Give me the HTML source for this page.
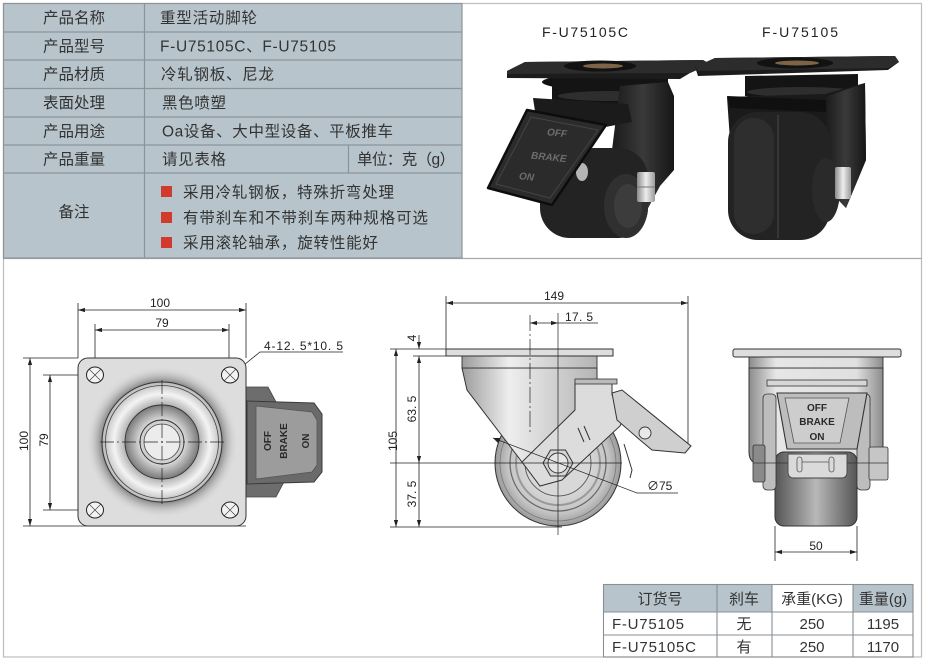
<!DOCTYPE html>
<html><head><meta charset="utf-8">
<style>
html,body{margin:0;padding:0;background:#fff;}
svg{display:block;}
text{font-family:"Liberation Sans","Noto Sans CJK SC",sans-serif;}
</style></head>
<body>
<svg width="925" height="661" viewBox="0 0 925 661" xmlns="http://www.w3.org/2000/svg">
<defs>
  <radialGradient id="halo" cx="0.5" cy="0.5" r="0.5">
    <stop offset="0.78" stop-color="#6a6a6a" stop-opacity="0.8"/>
    <stop offset="1" stop-color="#dcdcdc" stop-opacity="0"/>
  </radialGradient>
  <radialGradient id="ring" cx="0.5" cy="0.5" r="0.5">
    <stop offset="0.55" stop-color="#9a9a9a"/>
    <stop offset="0.8" stop-color="#f4f4f4"/>
    <stop offset="1" stop-color="#b8b8b8"/>
  </radialGradient>
  <radialGradient id="inner" cx="0.5" cy="0.5" r="0.5">
    <stop offset="0.5" stop-color="#f0f0f0"/>
    <stop offset="1" stop-color="#7a7a7a"/>
  </radialGradient>
  <radialGradient id="wheel" cx="0.5" cy="0.5" r="0.5">
    <stop offset="0.3" stop-color="#e4e4e4"/>
    <stop offset="0.8" stop-color="#c4c4c4"/>
    <stop offset="1" stop-color="#9a9a9a"/>
  </radialGradient>
  <linearGradient id="cone" x1="0" y1="0" x2="1" y2="0">
    <stop offset="0" stop-color="#9c9c9c"/>
    <stop offset="0.35" stop-color="#eeeeee"/>
    <stop offset="1" stop-color="#b4b4b4"/>
  </linearGradient>
  <linearGradient id="fork" x1="0" y1="0" x2="1" y2="0">
    <stop offset="0" stop-color="#8c8c8c"/>
    <stop offset="0.2" stop-color="#e6e6e6"/>
    <stop offset="0.8" stop-color="#e0e0e0"/>
    <stop offset="1" stop-color="#8c8c8c"/>
  </linearGradient>
  <linearGradient id="rwheel" x1="0" y1="0" x2="1" y2="0">
    <stop offset="0" stop-color="#555"/>
    <stop offset="0.5" stop-color="#b8b8b8"/>
    <stop offset="1" stop-color="#555"/>
  </linearGradient>
  <linearGradient id="blk" x1="0" y1="0" x2="1" y2="0">
    <stop offset="0" stop-color="#1a1a1a"/>
    <stop offset="0.5" stop-color="#3a3a3a"/>
    <stop offset="1" stop-color="#161616"/>
  </linearGradient>
  <linearGradient id="silver" x1="0" y1="0" x2="1" y2="0">
    <stop offset="0" stop-color="#8a8a8a"/>
    <stop offset="0.5" stop-color="#eeeeee"/>
    <stop offset="1" stop-color="#9a9a9a"/>
  </linearGradient>
  <marker id="ar" viewBox="0 0 10 10" refX="10" refY="5" markerWidth="7" markerHeight="7" orient="auto-start-reverse" markerUnits="userSpaceOnUse">
    <path d="M0,2 L10,5 L0,8 z" fill="#222"/>
  </marker>
</defs>

<!-- outer frame -->
<rect x="3.5" y="3.5" width="918" height="653.5" fill="none" stroke="#bdbdbd" stroke-width="1.2"/>
<line x1="3" y1="258.5" x2="922" y2="258.5" stroke="#a9a9a9" stroke-width="1.2"/>

<!-- top-left spec table -->
<rect x="3.5" y="3.5" width="458.5" height="254.5" fill="#b7c4cb" stroke="#8c9499" stroke-width="1.2"/>
<g stroke="#8c9499" stroke-width="1.2">
  <line x1="3" y1="32" x2="462" y2="32"/>
  <line x1="3" y1="60" x2="462" y2="60"/>
  <line x1="3" y1="88.5" x2="462" y2="88.5"/>
  <line x1="3" y1="117" x2="462" y2="117"/>
  <line x1="3" y1="145" x2="462" y2="145"/>
  <line x1="3" y1="173" x2="462" y2="173"/>
  <line x1="144.5" y1="3" x2="144.5" y2="258"/>
  <line x1="348.5" y1="145" x2="348.5" y2="173"/>
</g>
<g fill="#333" font-size="15.5" text-anchor="middle">
  <text x="74" y="23">产品名称</text>
  <text x="74" y="51.5">产品型号</text>
  <text x="74" y="79.5">产品材质</text>
  <text x="74" y="108">表面处理</text>
  <text x="74" y="136.5">产品用途</text>
  <text x="74" y="164.5">产品重量</text>
  <text x="74" y="217">备注</text>
</g>
<g fill="#333" font-size="15.5">
  <text x="160" y="23" textLength="97">重型活动脚轮</text>
  <text x="160" y="51.5" textLength="176">F-U75105C、F-U75105</text>
  <text x="161" y="79.5" textLength="113">冷轧钢板、尼龙</text>
  <text x="162" y="108" textLength="64">黑色喷塑</text>
  <text x="162" y="136.5" textLength="231">Oa设备、大中型设备、平板推车</text>
  <text x="162" y="164.5" textLength="64">请见表格</text>
  <text x="357" y="164.5" textLength="98">单位：克（g）</text>
  <text x="183" y="197.5" textLength="211">采用冷轧钢板，特殊折弯处理</text>
  <text x="183" y="223" textLength="245">有带刹车和不带刹车两种规格可选</text>
  <text x="183" y="248" textLength="195">采用滚轮轴承，旋转性能好</text>
</g>
<g fill="#d13b2e">
  <rect x="161" y="186" width="11" height="11"/>
  <rect x="161" y="212" width="11" height="11"/>
  <rect x="161" y="237" width="11" height="11"/>
</g>

<!-- photo labels -->
<text x="585" y="37" font-size="14" fill="#222" text-anchor="middle" textLength="86">F-U75105C</text>
<text x="800" y="37" font-size="14" fill="#222" text-anchor="middle" textLength="76">F-U75105</text>

<!-- photo caster 1 (with brake) -->
<g>
  <ellipse cx="600" cy="82" rx="58" ry="8" fill="#111"/>
  <path d="M552,78 L668,78 L668,104 Q610,115 552,104 Z" fill="#141414"/>
  <ellipse cx="610" cy="96" rx="52" ry="5" fill="#2e2e2e"/>
  <!-- fork right leg -->
  <path d="M620,86 L668,82 L674,96 L674,170 L660,186 L646,212 L622,204 L612,150 Z" fill="url(#blk)"/>
  <!-- wheel -->
  <rect x="540" y="148" width="108" height="90" rx="30" fill="#232323"/>
  <ellipse cx="626" cy="206" rx="22" ry="32" fill="#303030"/>
  <ellipse cx="628" cy="206" rx="14" ry="22" fill="#3c3c3c"/>
  <ellipse cx="582" cy="172" rx="6" ry="9" fill="#b5b5b5"/>
  <!-- bolt -->
  <rect x="637" y="172" width="18" height="30" rx="2" fill="url(#silver)"/>
  <line x1="637" y1="187" x2="655" y2="187" stroke="#777" stroke-width="1"/>
  <!-- bracket -->
  <path d="M533,98 L628,104 L632,122 L600,128 L536,118 Z" fill="#1b1b1b"/>
  <!-- pedal -->
  <path d="M527,110 L606,125 L552,205 L488,188 Z" fill="#2b2b2b" stroke="#0d0d0d" stroke-width="2.5" stroke-linejoin="round"/>
  <path d="M531,117 L598,130 L550,198 L496,184 Z" fill="none" stroke="#444" stroke-width="1"/>
  <g fill="#6e6e6e" font-size="10" font-weight="bold" font-style="italic">
    <text x="547" y="136" transform="rotate(6 555 133)">OFF</text>
    <text x="531" y="160" transform="rotate(6 545 157)">BRAKE</text>
    <text x="519" y="180" transform="rotate(6 527 177)">ON</text>
  </g>
  <!-- plate -->
  <polygon points="507,71 525,62 703,60 710,64 690,73 680,79 507,78" fill="#1c1c1c"/>
  <polygon points="507,71 525,62 703,60 710,64 690,73 507,74" fill="#2c2c2c"/>
  <ellipse cx="600" cy="66" rx="36" ry="5.5" fill="#121212"/>
  <ellipse cx="603" cy="66" rx="20" ry="2.5" fill="#7d6446"/>
</g>

<!-- photo caster 2 (no brake) -->
<g>
  <path d="M745,76 L858,74 L858,96 Q800,104 745,96 Z" fill="#141414"/>
  <ellipse cx="802" cy="92" rx="55" ry="5" fill="#2e2e2e"/>
  <!-- fork body -->
  <path d="M727,97 L825,94 L865,83 L866,160 L846,208 L827,188 L730,140 Z" fill="#1a1a1a"/>
  <path d="M825,97 L865,83 L866,160 L846,208 L827,188 Z" fill="url(#blk)"/>
  <!-- wheel -->
  <rect x="728" y="112" width="102" height="128" rx="30" fill="#232323"/>
  <rect x="734" y="118" width="40" height="116" rx="20" fill="#2e2e2e"/>
  <line x1="778" y1="115" x2="778" y2="238" stroke="#3c3c3c" stroke-width="1.5"/>
  <ellipse cx="826" cy="190" rx="14" ry="32" fill="#2a2a2a"/>
  <!-- front bracket -->
  <path d="M727,96 L826,100 L826,112 L730,108 Z" fill="#101010"/>
  <!-- bolt -->
  <rect x="835" y="167" width="16" height="32" rx="2" fill="url(#silver)"/>
  <!-- plate -->
  <polygon points="695,67 715,58 895,56 899,62 888,70 698,76" fill="#1c1c1c"/>
  <polygon points="695,67 715,58 895,56 899,62 888,68 698,71" fill="#2c2c2c"/>
  <ellipse cx="795" cy="63" rx="38" ry="5.5" fill="#121212"/>
  <ellipse cx="797" cy="63" rx="22" ry="2.5" fill="#7d6446"/>
</g>

<!-- ================= LEFT DRAWING (top view) ================= -->
<g stroke="#222" stroke-width="0.8" fill="none">
  <!-- extension lines -->
  <line x1="78" y1="303" x2="78" y2="358"/>
  <line x1="246" y1="303" x2="246" y2="358"/>
  <line x1="95" y1="324" x2="95" y2="375"/>
  <line x1="229" y1="324" x2="229" y2="375"/>
  <line x1="23" y1="358" x2="78" y2="358"/>
  <line x1="23" y1="526" x2="246" y2="526"/>
  <line x1="43" y1="375" x2="95" y2="375"/>
  <line x1="43" y1="510" x2="95" y2="510"/>
  <!-- dimension lines -->
  <line x1="78" y1="310" x2="246" y2="310" marker-start="url(#ar)" marker-end="url(#ar)"/>
  <line x1="95" y1="330" x2="229" y2="330" marker-start="url(#ar)" marker-end="url(#ar)"/>
  <line x1="30" y1="358" x2="30" y2="526" marker-start="url(#ar)" marker-end="url(#ar)"/>
  <line x1="50" y1="375" x2="50" y2="510" marker-start="url(#ar)" marker-end="url(#ar)"/>
  <!-- leader -->
  <polyline points="239,369 260,352 343,352"/>
</g>
<g fill="#222" font-size="12">
  <text x="160" y="307" text-anchor="middle">100</text>
  <text x="162" y="327" text-anchor="middle">79</text>
  <text x="264" y="350" textLength="79">4-12. 5*10. 5</text>
  <text transform="translate(28 441) rotate(-90)" text-anchor="middle">100</text>
  <text transform="translate(48 440) rotate(-90)" text-anchor="middle">79</text>
</g>
<!-- brake pedal (top view) -->
<path d="M246,387 L268,387 L276,402 L246,402 Z" fill="#6d6d6d" stroke="#444" stroke-width="0.8"/>
<path d="M246,480 L285,480 L276,497 L246,497 Z" fill="#6d6d6d" stroke="#444" stroke-width="0.8"/>
<path d="M247,401 L314,403 L322,414 L322,472 L314,482 L247,484 Z" fill="#6a6a6a" stroke="#3a3a3a" stroke-width="1"/>
<path d="M256,406 L312,412 L317,420 L317,465 L312,472 L256,479 Z" fill="#9c9c9c" stroke="#555" stroke-width="0.8"/>
<g fill="#2a2a2a" font-size="10" font-weight="bold" text-anchor="middle">
  <text transform="translate(271 441) rotate(-90)">OFF</text>
  <text transform="translate(287 441) rotate(-90)">BRAKE</text>
  <text transform="translate(309 441) rotate(-90)">ON</text>
</g>
<!-- plate -->
<rect x="78" y="358" width="168" height="168" rx="10" fill="#dddddd" stroke="#333" stroke-width="1"/>
<circle cx="162" cy="442" r="76" fill="url(#halo)"/>
<circle cx="162" cy="442" r="60" fill="url(#ring)" stroke="#333" stroke-width="1"/>
<circle cx="162" cy="442" r="56.5" fill="none" stroke="#444" stroke-width="0.8"/>
<circle cx="162" cy="442" r="37" fill="url(#inner)" stroke="#333" stroke-width="0.9"/>
<circle cx="162" cy="442" r="22" fill="#d0d0d0" stroke="#333" stroke-width="0.9"/>
<circle cx="162" cy="442" r="18" fill="#ececec" stroke="#444" stroke-width="0.8"/>
<g stroke="#222" stroke-width="0.7" stroke-dasharray="14,3,2,3" fill="none">
  <line x1="100" y1="442" x2="224" y2="442"/>
  <line x1="162" y1="380" x2="162" y2="504"/>
</g>
<g fill="#f2f2f2" stroke="#222" stroke-width="1">
  <ellipse cx="95" cy="375" rx="8.5" ry="8"/>
  <ellipse cx="230" cy="375" rx="8.5" ry="8"/>
  <ellipse cx="95" cy="510" rx="8.5" ry="8"/>
  <ellipse cx="230" cy="510" rx="8.5" ry="8"/>
</g>
<g stroke="#333" stroke-width="0.6">
  <path d="M89,369 L101,381 M101,369 L89,381"/>
  <path d="M224,369 L236,381 M236,369 L224,381"/>
  <path d="M89,504 L101,516 M101,504 L89,516"/>
  <path d="M224,504 L236,516 M236,504 L224,516"/>
</g>

<!-- ================= MIDDLE DRAWING (side view) ================= -->
<g stroke="#222" stroke-width="0.8" fill="none">
  <line x1="446" y1="296" x2="446" y2="349"/>
  <line x1="688" y1="296" x2="688" y2="450"/>
  <line x1="446" y1="303" x2="688" y2="303" marker-start="url(#ar)" marker-end="url(#ar)"/>
  <line x1="390" y1="349" x2="446" y2="349"/>
  <line x1="413" y1="356" x2="462" y2="356"/>
  <line x1="390" y1="527" x2="562" y2="527"/>
  <line x1="396" y1="349" x2="396" y2="527" marker-start="url(#ar)" marker-end="url(#ar)"/>
  <line x1="419" y1="335" x2="419" y2="349" marker-end="url(#ar)"/>
  <line x1="419" y1="356" x2="419" y2="463" marker-start="url(#ar)" marker-end="url(#ar)"/>
  <line x1="419" y1="463" x2="419" y2="527" marker-end="url(#ar)"/>
  <line x1="530" y1="323" x2="558" y2="323" marker-start="url(#ar)" marker-end="url(#ar)"/>
  <line x1="558" y1="323" x2="598" y2="323"/>
</g>
<g fill="#222" font-size="12">
  <text x="554" y="300" text-anchor="middle">149</text>
  <text x="565" y="321" textLength="28">17. 5</text>
  <text transform="translate(416 338) rotate(-90)" text-anchor="middle">4</text>
  <text transform="translate(416 409) rotate(-90)" text-anchor="middle">63. 5</text>
  <text transform="translate(397 441) rotate(-90)" text-anchor="middle">105</text>
  <text transform="translate(416 494) rotate(-90)" text-anchor="middle">37. 5</text>
</g>
<!-- wheel -->
<circle cx="558" cy="463" r="63" fill="url(#wheel)" stroke="#333" stroke-width="1"/>
<circle cx="558" cy="463" r="58" fill="none" stroke="#777" stroke-width="0.8"/>
<circle cx="558" cy="463" r="48" fill="none" stroke="#666" stroke-width="1.2"/>
<circle cx="558" cy="463" r="42" fill="none" stroke="#999" stroke-width="2"/>
<circle cx="558" cy="463" r="33" fill="#d8d8d8" stroke="#555" stroke-width="0.9"/>
<!-- cone / housing -->
<path d="M462,368 L597,368 L597,385 L575,385 L575,412 L528,462 L522,462 L467,390 Z" fill="url(#cone)" stroke="#333" stroke-width="1"/>
<rect x="462" y="356" width="135" height="12" fill="url(#cone)" stroke="#333" stroke-width="0.9"/>
<rect x="446" y="349" width="167" height="7" fill="#dedede" stroke="#333" stroke-width="1"/>
<!-- brake arm -->
<path d="M575,382 L612,382 L612,395 L626,414 L620,426 L562,480 L540,486 L522,462 L575,410 Z" fill="#dcdcdc" stroke="#333" stroke-width="1"/>
<rect x="575" y="379" width="42" height="5" fill="#bbb" stroke="#333" stroke-width="0.8"/>
<path d="M612,393 L622,390 L691,446 L685,453 L652,450 L640,440 L617,420 Z" fill="#cfcfcf" stroke="#333" stroke-width="1"/>
<circle cx="645" cy="433" r="6" fill="#e8e8e8" stroke="#333" stroke-width="0.9"/>
<path d="M624,444 L632,470 L630,478" fill="none" stroke="#333" stroke-width="1"/>
<path d="M578,428 L584,442 M584,426 L590,440" stroke="#333" stroke-width="1"/>
<!-- hex nut -->
<polygon points="573,463 565.5,476 550.5,476 543,463 550.5,450 565.5,450" fill="#d4d4d4" stroke="#333" stroke-width="1"/>
<circle cx="558" cy="463" r="10" fill="#e6e6e6" stroke="#333" stroke-width="0.9"/>
<!-- centerlines / dims over drawing -->
<g stroke="#222" stroke-width="0.7" fill="none">
  <line x1="530" y1="315" x2="530" y2="432" stroke-dasharray="16,3,2,3"/>
  <line x1="558" y1="313" x2="558" y2="535"/>
  <line x1="390" y1="463" x2="622" y2="463"/>
  <polyline points="493,438 637,493 678,493"/>
</g>
<path d="M493,438 L500,438 L498,443 Z" fill="#222"/>
<text x="647" y="490" font-size="12" fill="#222">∅75</text>

<!-- ================= RIGHT DRAWING (front view) ================= -->
<path d="M749,368 L883,368 L883,452 Q883,464 871,464 L761,464 Q749,464 749,452 Z" fill="url(#fork)" stroke="#333" stroke-width="1"/>
<rect x="749" y="357" width="134" height="11" fill="url(#fork)" stroke="#333" stroke-width="0.9"/>
<rect x="733" y="349" width="168" height="8" rx="2" fill="#dedede" stroke="#333" stroke-width="1"/>
<rect x="767" y="380" width="100" height="6" fill="#d6d6d6" stroke="#333" stroke-width="0.8"/>
<rect x="775" y="452" width="82" height="74" rx="9" fill="url(#rwheel)" stroke="#333" stroke-width="1"/>
<rect x="763" y="394" width="13" height="96" rx="4" fill="#bdbdbd" stroke="#333" stroke-width="0.8"/>
<rect x="857" y="394" width="13" height="96" rx="4" fill="#bdbdbd" stroke="#333" stroke-width="0.8"/>
<rect x="753" y="445" width="12" height="37" rx="2" fill="#8a8a8a" stroke="#333" stroke-width="0.8"/>
<rect x="869" y="447" width="19" height="33" rx="2" fill="#c6c6c6" stroke="#333" stroke-width="0.8"/>
<line x1="753" y1="463" x2="888" y2="463" stroke="#333" stroke-width="0.7"/>
<path d="M788,454 L847,454 L847,472 Q847,478 841,478 L794,478 Q788,478 788,472 Z" fill="#dadada" stroke="#444" stroke-width="0.9"/>
<g fill="none" stroke="#555" stroke-width="0.8">
  <rect x="797" y="457" width="5" height="15" rx="2.5"/>
  <rect x="829" y="457" width="5" height="15" rx="2.5"/>
  <line x1="802" y1="462" x2="829" y2="462"/>
</g>
<path d="M777,393 L867,393 L857,449 L787,449 Z" fill="#bdbdbd" stroke="#333" stroke-width="1.1"/>
<path d="M785,398 L849,398 L840,443 L794,443 Z" fill="#cdcdcd" stroke="#555" stroke-width="0.8"/>
<g fill="#2a2a2a" font-size="10" font-weight="bold" text-anchor="middle">
  <text x="817" y="411">OFF</text>
  <text x="817" y="425">BRAKE</text>
  <text x="817" y="440">ON</text>
</g>
<g stroke="#222" stroke-width="0.8" fill="none">
  <line x1="775" y1="526" x2="775" y2="561"/>
  <line x1="857" y1="526" x2="857" y2="561"/>
  <line x1="775" y1="552" x2="857" y2="552" marker-start="url(#ar)" marker-end="url(#ar)"/>
</g>
<text x="816" y="550" font-size="12" fill="#222" text-anchor="middle">50</text>

<!-- ================= BOTTOM TABLE ================= -->
<rect x="603" y="584" width="114" height="28" fill="#b7c4cb"/>
<rect x="717" y="584" width="55" height="28" fill="#b7c4cb"/>
<rect x="772" y="584" width="81" height="28" fill="#ffffff"/>
<rect x="853" y="584" width="60" height="28" fill="#b7c4cb"/>
<g stroke="#8a8f93" stroke-width="1.1" fill="none">
  <rect x="603.5" y="584.5" width="309.5" height="72.5"/>
  <line x1="603" y1="612" x2="913" y2="612"/>
  <line x1="603" y1="635" x2="913" y2="635"/>
  <line x1="717" y1="584" x2="717" y2="657"/>
  <line x1="772" y1="584" x2="772" y2="657"/>
  <line x1="853" y1="584" x2="853" y2="657"/>
</g>
<g fill="#333" font-size="15" text-anchor="middle">
  <text x="660" y="604">订货号</text>
  <text x="744" y="604">刹车</text>
  <text x="812" y="604">承重(KG)</text>
  <text x="883" y="604">重量(g)</text>
  <text x="744" y="629">无</text>
  <text x="812" y="629">250</text>
  <text x="883" y="629">1195</text>
  <text x="744" y="652">有</text>
  <text x="812" y="652">250</text>
  <text x="883" y="652">1170</text>
</g>
<g fill="#333" font-size="15">
  <text x="612" y="629" textLength="72">F-U75105</text>
  <text x="612" y="652" textLength="84">F-U75105C</text>
</g>
</svg>
</body></html>
